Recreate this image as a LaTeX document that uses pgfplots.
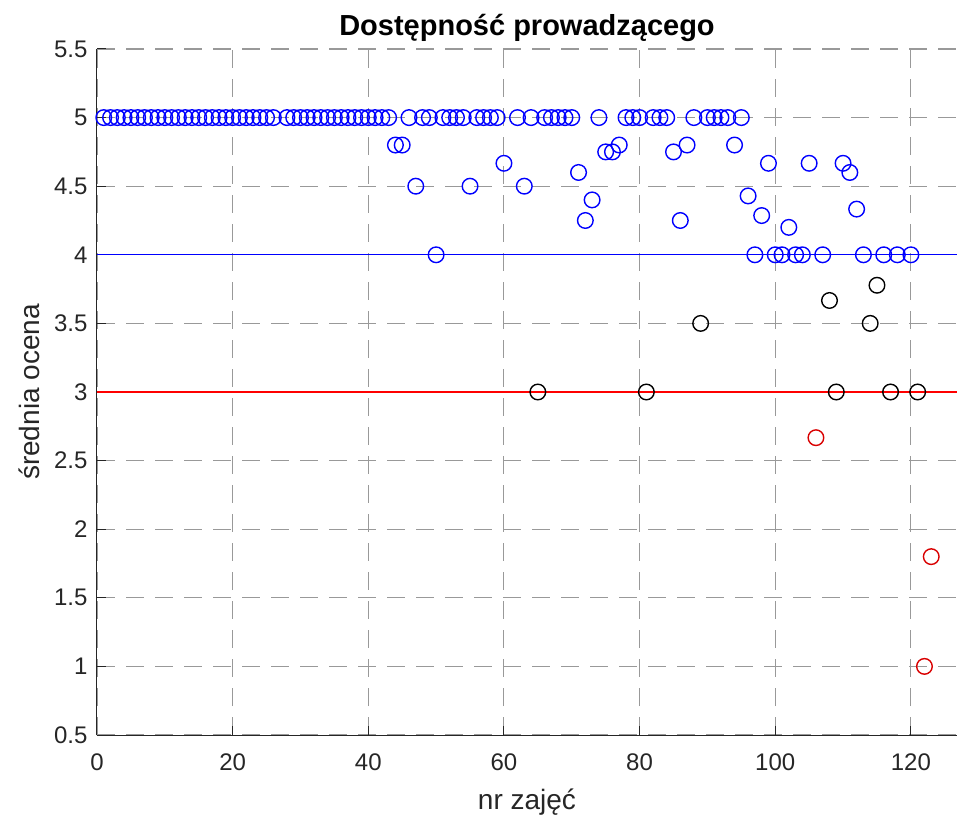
\documentclass[border=0pt]{standalone}
\usepackage{pgfplots}
\pgfplotsset{compat=1.18}
\usepackage{fontspec}
\setmainfont{Liberation Sans}
\definecolor{axc}{rgb}{0.15,0.15,0.15}
\definecolor{gridc}{rgb}{0.6,0.6,0.6}
\definecolor{pb}{rgb}{0,0,1}
\definecolor{pr}{rgb}{1,0,0}
\definecolor{mr}{rgb}{0.85,0,0}
\begin{document}
\begin{tikzpicture}
\begin{axis}[name=ax,
  scale only axis, width=860pt, height=686pt,
  xmin=0, xmax=126.8, ymin=0.5, ymax=5.5,
  xtick={0,20,...,120}, ytick={0.5,1,...,5.5},
  axis x line*=bottom, axis y line*=left,
  axis line style={axc, line width=1pt, -},
  tick style={axc, line width=1pt},
  tick align=inside, major tick length=9pt,
  grid=major,
  major grid style={gridc, line width=1.1pt, dash pattern=on 18pt off 11pt},
  tick label style={font=\fontsize{24}{28}\selectfont, text=axc},
  yticklabel style={xshift=-6pt},
  xticklabel style={yshift=-15pt},
  /pgf/number format/assume math mode=true,
  xlabel={nr zajęć}, ylabel={średnia ocena},
  label style={font=\fontsize{28}{32}\selectfont, text=axc},
  xlabel style={yshift=-11pt},
  ylabel style={yshift=7pt},
  title={\textbf{Dostępność prowadzącego}},
  title style={font=\fontsize{29}{33}\selectfont, yshift=-2pt},
  clip=false,
]
\addplot[draw=pb, line width=1.1pt, forget plot] coordinates {(0,4) (126.8,4)};
\addplot[only marks, mark=o, mark size=7.8pt, draw=pb, mark options={line width=1.4pt, draw=pb}] table {
x y
1 5
2 5
3 5
4 5
5 5
6 5
7 5
8 5
9 5
10 5
11 5
12 5
13 5
14 5
15 5
16 5
17 5
18 5
19 5
20 5
21 5
22 5
23 5
24 5
25 5
26 5
28 5
29 5
30 5
31 5
32 5
33 5
34 5
35 5
36 5
37 5
38 5
39 5
40 5
41 5
42 5
43 5
44 4.8
45 4.8
46 5
47 4.5
48 5
49 5
50 4
51 5
52 5
53 5
54 5
55 4.5
56 5
57 5
58 5
59 5
60 4.667
62 5
63 4.5
64 5
66 5
67 5
68 5
69 5
70 5
71 4.6
72 4.25
73 4.4
74 5
75 4.75
76 4.75
77 4.8
78 5
79 5
80 5
82 5
83 5
84 5
85 4.75
86 4.25
87 4.8
88 5
90 5
91 5
92 5
93 5
94 4.8
95 5
96 4.429
97 4
98 4.286
99 4.667
100 4
101 4
102 4.2
103 4
104 4
105 4.667
107 4
110 4.667
111 4.6
112 4.333
113 4
116 4
118 4
120 4
};
\addplot[only marks, mark=o, mark size=7.8pt, draw=black, mark options={line width=1.4pt, draw=black}] table {
x y
65 3
81 3
89 3.5
108 3.667
109 3
114 3.5
115 3.778
117 3
121 3
};
\addplot[only marks, mark=o, mark size=7.8pt, draw=mr, mark options={line width=1.4pt, draw=mr}] table {
x y
106 2.667
122 1
123 1.8
};
\addplot[pr, line width=1.2pt, forget plot, no marks] coordinates {(0,3) (126.8,3)};
\end{axis}
\pgfresetboundingbox
\path[use as bounding box] ([xshift=-97pt,yshift=-83pt]ax.south west) rectangle ([yshift=49pt]ax.north east);
\end{tikzpicture}
\end{document}
